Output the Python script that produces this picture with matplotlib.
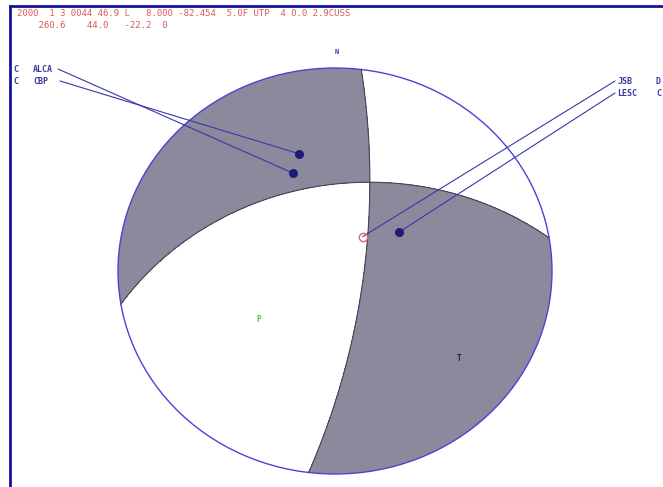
import numpy as np
import matplotlib
matplotlib.use("Agg")
import matplotlib.pyplot as plt
from matplotlib.lines import Line2D
from matplotlib.patches import Circle

# fault plane solution: strike, dip, rake
strike, dip, rake = 260.6, 44.0, -22.2
header1 = "2000  1 3 0044 46.9 L   8.000 -82.454  5.0F UTP  4 0.0 2.9CUSS"
header2 = "    260.6    44.0   -22.2  0"

# station first motions
stations = ["ALCA", "CBP", "JSB", "LESC"]
polarity = ["C", "C", "D", "C"]
azimuth = [338.0, 344.0, 37.0, 57.0]
takeoff = [55.0, 62.0, 24.0, 39.0]

W, H = 663, 487
fig = plt.figure(figsize=(W / 100, H / 100), dpi=100)
fig.patch.set_facecolor("white")

# frame (top and left)
fig.add_artist(Line2D([10 / W, 1], [1 - 6 / H, 1 - 6 / H], transform=fig.transFigure, color="#14149a", lw=2))
fig.add_artist(Line2D([10 / W, 10 / W], [0, 1 - 6 / H], transform=fig.transFigure, color="#14149a", lw=2))

ax = fig.add_axes([118 / W, 13 / H, 434 / W, 406 / H])
ax.set_xlim(-1, 1)
ax.set_ylim(-1, 1)
ax.axis("off")


def proj(vec):
    # lower hemisphere stereographic (Wulff), vec = (N, E, Down)
    v = np.asarray(vec, float)
    v = v / np.linalg.norm(v)
    if v[2] < 0:
        v = -v
    th = np.arccos(np.clip(v[2], -1, 1))
    az = np.arctan2(v[1], v[0])
    r = np.tan(th / 2)
    return r * np.sin(az), r * np.cos(az)


phi, dlt, lam = np.radians([strike, dip, rake])
n = np.array([-np.sin(dlt) * np.sin(phi), np.sin(dlt) * np.cos(phi), -np.cos(dlt)])
d = np.array([np.cos(lam) * np.cos(phi) + np.sin(lam) * np.cos(dlt) * np.sin(phi),
              np.cos(lam) * np.sin(phi) - np.sin(lam) * np.cos(dlt) * np.cos(phi),
              -np.sin(lam) * np.sin(dlt)])

# compressional quadrants
g = np.linspace(-1.02, 1.02, 900)
U, V = np.meshgrid(g, g)
R = np.hypot(U, V)
TH = 2 * np.arctan(R)
AZ = np.arctan2(U, V)
X = np.stack([np.sin(TH) * np.cos(AZ), np.sin(TH) * np.sin(AZ), np.cos(TH)])
prod = np.tensordot(n, X, 1) * np.tensordot(d, X, 1)
clip = Circle((0, 0), 1, transform=ax.transData)
cs = ax.contourf(U, V, prod, levels=[0, prod.max() + 1], colors=["#8b899b"])
cs.set_clip_path(clip)

# nodal planes
for nv in (n, d):
    a = np.cross(nv, [0, 0, 1.0])
    a /= np.linalg.norm(a)
    b = np.cross(nv, a)
    if b[2] < 0:
        b = -b
    t = np.linspace(0, np.pi, 400)
    pts = np.outer(np.cos(t), a) + np.outer(np.sin(t), b)
    xy = np.array([proj(p) for p in pts])
    ax.plot(xy[:, 0], xy[:, 1], color="#44445a", lw=0.8, clip_on=False)

ax.add_patch(Circle((0, 0), 1, fill=False, edgecolor="#4646d6", lw=1, clip_on=False))
ax.text(0.01, 1.08, "N", color="#3030c0", fontsize=5, ha="center", va="center",
        family="DejaVu Sans Mono", fontweight="bold")

# P and T axes
px, py = proj(n - d)
tx, ty = proj(n + d)
ax.text(px, py, "P", color="#3cd040", fontsize=5.5, ha="center", va="center",
        family="DejaVu Sans Mono", fontweight="bold")
ax.text(tx, ty, "T", color="#202030", fontsize=5.5, ha="center", va="center",
        family="DejaVu Sans Mono", fontweight="bold")

# header
fig.text(17 / W, 1 - 13 / H, header1, color="#e05a5a", fontsize=6.5, family="DejaVu Sans Mono", va="center")
fig.text(17 / W, 1 - 25 / H, header2, color="#e05a5a", fontsize=6.5, family="DejaVu Sans Mono", va="center")

# station labels and lines
label_pos = {"ALCA": (58, 69), "CBP": (60, 81), "JSB": (615, 81), "LESC": (615, 93)}
lab_col = "#3a3a9a"
for st, pol, az, toa in zip(stations, polarity, azimuth, takeoff):
    r = np.tan(np.radians(toa) / 2)
    sx, sy = r * np.sin(np.radians(az)), r * np.cos(np.radians(az))
    lx, ly = label_pos[st]
    ax.annotate("", xy=(sx, sy), xycoords="data", xytext=(lx, H - ly), textcoords="figure pixels",
                arrowprops=dict(arrowstyle="-", color="#3838a8", lw=0.8, shrinkA=0, shrinkB=0))
    if az > 180:
        fig.text(13 / W, 1 - ly / H, pol, color=lab_col, fontsize=6, family="DejaVu Sans Mono",
                 fontweight="bold", va="center")
        fig.text(33 / W, 1 - ly / H, st, color=lab_col, fontsize=6, family="DejaVu Sans Mono",
                 fontweight="bold", va="center")
    else:
        fig.text(617 / W, 1 - ly / H, st, color=lab_col, fontsize=6, family="DejaVu Sans Mono",
                 fontweight="bold", va="center")
        fig.text(656 / W, 1 - ly / H, pol, color=lab_col, fontsize=6, family="DejaVu Sans Mono",
                 fontweight="bold", va="center")
    if pol == "C":
        ax.plot(sx, sy, "o", color="#1c1c78", ms=5.5, zorder=5)
    else:
        ax.plot(sx, sy, "o", mfc="none", mec="#e06070", ms=6, mew=1, zorder=5)

fig.savefig("out.png", dpi=100)
